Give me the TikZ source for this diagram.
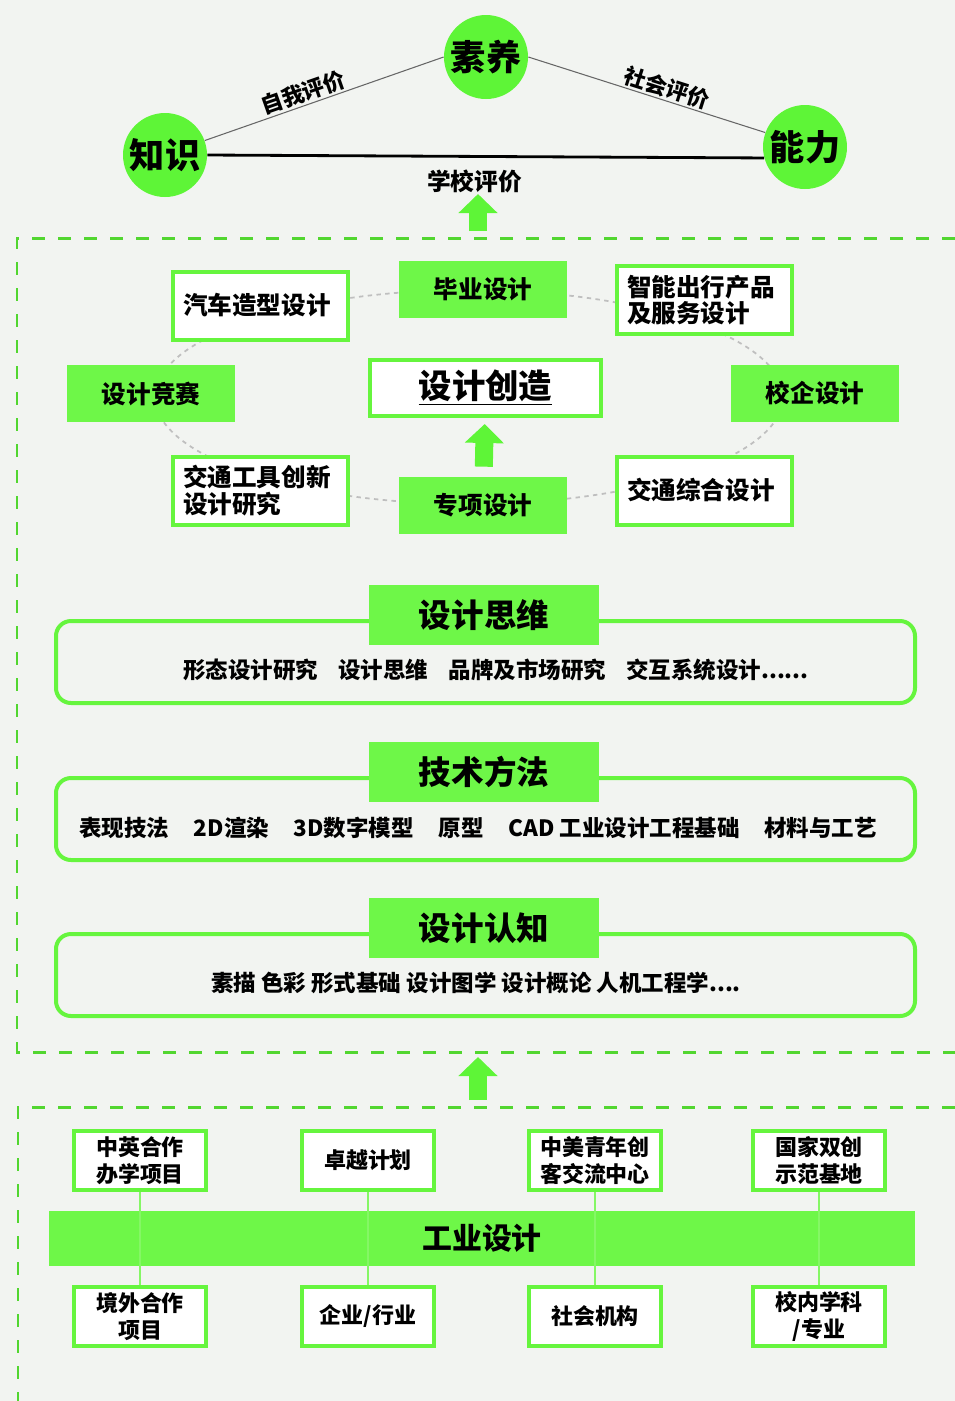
\documentclass[tikz,border=0pt]{standalone}
\usepackage{fontspec}
\setmainfont{Noto Sans CJK SC}
\usetikzlibrary{arrows.meta,positioning}
\definecolor{bgcol}{RGB}{242,244,241}
\definecolor{grn}{RGB}{110,247,72}
\definecolor{grnline}{RGB}{102,245,62}
\definecolor{circgrn}{RGB}{94,245,55}
\definecolor{zonegrn}{RGB}{82,214,48}
\tikzset{
	circ/.style={circle,fill=circgrn,minimum size=1.68cm,inner sep=0pt,font=\bfseries\fontsize{20}{22}\selectfont},
	evaltext/.style={font=\bfseries\fontsize{12.5}{14}\selectfont,inner sep=1pt},
	thinlink/.style={draw=black!60,line width=0.6pt},
	thicklink/.style={draw=black,line width=1.6pt},
	fatarrow/.style={draw=circgrn,line width=0.36cm,-{Triangle[width=0.76cm,length=0.38cm]}},
	zone/.style={draw=zonegrn,line width=1.7pt,dash pattern=on 7.4pt off 7.4pt},
	orbit/.style={draw=black!25,line width=1pt,dash pattern=on 2.5pt off 2.5pt},
	fillbox/.style={fill=grn,minimum width=3.36cm,minimum height=1.14cm,inner sep=0pt,font=\bfseries\fontsize{14}{15}\selectfont},
	framebox/.style={draw=grnline,line width=0.08cm,fill=white,text width=3.1cm,inner xsep=0.2cm,minimum height=1.36cm,align=left,font=\bfseries\fontsize{14}{15}\selectfont},
	corebox/.style={draw=grnline,line width=0.08cm,fill=white,minimum width=4.62cm,minimum height=1.12cm,inner sep=0pt,font=\bfseries\fontsize{19}{21}\selectfont},
	bandframe/.style={draw=grnline,line width=0.08cm,rounded corners=0.3cm},
	bandlabel/.style={fill=grn,minimum width=4.6cm,minimum height=1.2cm,inner sep=0pt,font=\bfseries\fontsize{18.5}{20}\selectfont},
	rowtext/.style={font=\bfseries\fontsize{12.8}{14}\selectfont,inner sep=0pt},
	bigband/.style={fill=grn,minimum width=17.32cm,minimum height=1.1cm,inner sep=0pt,font=\bfseries\fontsize{17}{19}\selectfont},
	smallbox/.style={draw=grnline,line width=0.08cm,fill=white,minimum width=2.64cm,minimum height=1.18cm,inner sep=0pt,align=center,font=\bfseries\fontsize{12.5}{15}\selectfont},
	vline/.style={draw=grnline!80!white,line width=1.2pt}
}
\newcommand{\gap}{\hspace{0.9em}}
\begin{document}
\begin{tikzpicture}[x=0.02cm,y=-0.02cm]
	\fill[bgcol] (0,0) rectangle (955,1401);
	\useasboundingbox (0,0) rectangle (955,1401);
	\draw[zone] (955,238) -- (17,238) -- (17,1052) -- (955,1052);
	\draw[zone] (955,1107) -- (18,1107) -- (18,1401);

	\node[circ] (suyang) at (486,57) {素养};
	\node[circ] (zhishi) at (165,155) {知识};
	\node[circ] (nengli) at (805,147) {能力};
	\draw[thinlink] (zhishi.20) -- (suyang.west) node[pos=0.43,sloped,above,evaltext] {自我评价};
	\draw[thinlink] (suyang.east) -- (nengli.160) node[pos=0.57,sloped,above,evaltext] {社会评价};
	\draw[thicklink] (zhishi.east) -- (nengli.195) node[pos=0.48,below=6pt,evaltext,font=\bfseries\fontsize{13.5}{15}\selectfont] (schooleval) {学校评价};
	\coordinate (evaltail) at (478,231);
	\coordinate (evaltip) at (478,194);
	\draw[fatarrow] (evaltail) -- (evaltip);

	\draw[orbit] (469,397) ellipse [x radius=6.28cm,y radius=2.14cm];
	\node[fillbox] (biye) at (483,289) {毕业设计};
	\node[fillbox] (jingsai) at (151,393.5) {设计竞赛};
	\node[fillbox] (xiaoqi) at (815,393.5) {校企设计};
	\node[fillbox] (zhuanxiang) at (483,505.5) {专项设计};
	\node[framebox] (qiche) at (260.5,305.5) {汽车造型设计};
	\node[framebox] (zhineng) at (704.5,300) {智能出行产品\\及服务设计};
	\node[framebox] (gongju) at (260.5,490.5) {交通工具创新\\设计研究};
	\node[framebox] (zonghe) at (704.5,490.5) {交通综合设计};
	\node[corebox] (chuangzao) at (485.5,388) {\underline{设计创造}};
	\draw[fatarrow,shorten >=0.12cm,shorten <=0.2cm] (zhuanxiang) -- (chuangzao);

	\draw[bandframe] (56,621) rectangle (915,703);
	\node[bandlabel] (siwei) at (484,615) {设计思维};
	\node[rowtext] (siweirow) at (496,670) {形态设计研究\gap 设计思维\gap 品牌及市场研究\gap 交互系统设计......};

	\draw[bandframe] (56,778) rectangle (915,860);
	\node[bandlabel] (jishu) at (484,772) {技术方法};
	\node[rowtext] (jishurow) at (478,828) {表现技法\hspace{1.1em}2D渲染\hspace{1.1em}3D数字模型\hspace{1.1em}原型\hspace{1.1em}CAD 工业设计工程基础\hspace{1.1em}材料与工艺};

	\draw[bandframe] (56,934) rectangle (915,1016);
	\node[bandlabel] (renzhi) at (484,928) {设计认知};
	\node[rowtext] (renzhirow) at (476,983) {素描 色彩 形式基础 设计图学 设计概论 人机工程学....};

	\coordinate (uptail) at (478,1100);
	\coordinate (uptip) at (478,1057);
	\draw[fatarrow] (uptail) -- (uptip);

	\node[bigband] (gongye) at (482,1238.5) {工业设计};
	\node[smallbox] (zhongying) at (140,1160.5) {中英合作\\办学项目};
	\node[smallbox] (zhuoyue) at (368,1160.5) {卓越计划};
	\node[smallbox] (zhongmei) at (595,1160.5) {中美青年创\\客交流中心};
	\node[smallbox] (shuangchuang) at (819,1160.5) {国家双创\\示范基地};
	\node[smallbox] (jingwai) at (140,1316.5) {境外合作\\项目};
	\node[smallbox] (qiye) at (368,1316.5) {企业/行业};
	\node[smallbox] (shehui) at (595,1316.5) {社会机构};
	\node[smallbox] (xiaonei) at (819,1316.5) {校内学科\\/专业};
	\draw[vline] (zhongying.south) -- (jingwai.north);
	\draw[vline] (zhuoyue.south) -- (qiye.north);
	\draw[vline] (zhongmei.south) -- (shehui.north);
	\draw[vline] (shuangchuang.south) -- (xiaonei.north);
\end{tikzpicture}
\end{document}
